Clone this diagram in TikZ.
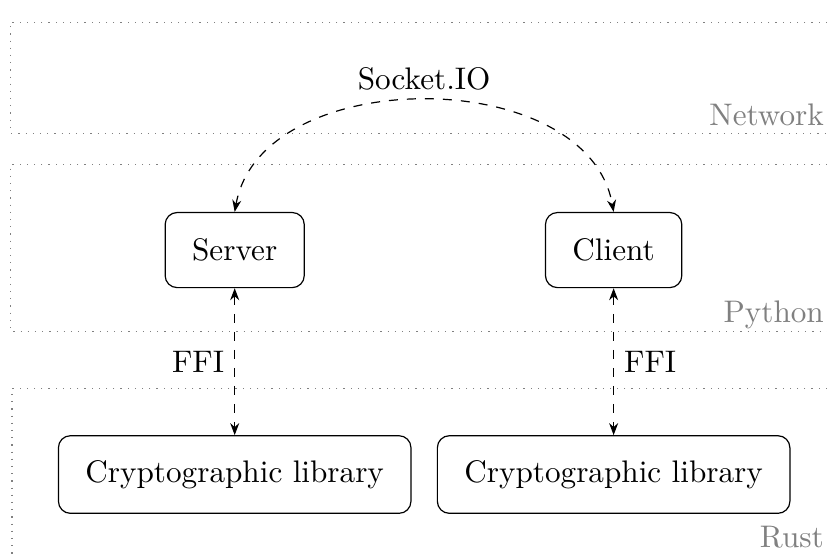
\documentclass[tikz,border=0pt]{standalone}
\usepackage{tikz}
\usetikzlibrary{arrows.meta}

\begin{document}
\begin{tikzpicture}[
    font=\fontsize{10.4pt}{12.5pt}\selectfont,
    component/.style={rectangle, draw, rounded corners, inner xsep=9pt, inner ysep=8.2pt, minimum height=0.88cm},
    layer/.style={draw=gray, dotted},
    layerlabel/.style={text=gray, anchor=base east, inner sep=0pt},
    link/.style={dashed, {Stealth[length=4pt]}-{Stealth[length=4pt]}}
  ]
      \useasboundingbox (0, 0) rectangle (9.69, 6.54);

      % layers
      \draw[layer] (9.69, 6.28) -- (0.12, 6.28) -- (0.12, 4.98) -- (9.69, 4.98);
      \draw[layer] (9.69, 4.61) -- (0.12, 4.61) -- (0.12, 2.66) -- (9.69, 2.66);
      \draw[layer] (9.69, 1.99) -- (0.14, 1.99) -- (0.14, 0);
      \node (network) [layerlabel] at (9.66, 5.07) {Network};
      \node (python) [layerlabel] at (9.66, 2.76) {Python};
      \node (rust) [layerlabel] at (9.66, 0.12) {Rust};

      \node (server) [component] at (2.75, 3.61) {Server};
      \node (client) [component] at (7.19, 3.61) {Client};
      \node (serverlib) [component] at (2.75, 0.98) {Cryptographic library};
      \node (clientlib) [component] at (7.19, 0.98) {Cryptographic library};

      \draw[link] (server.north) to [out=80, in=100, looseness=1.02] node [midway, above] {Socket.IO} (client.north);
      \draw[link] (server) -- (serverlib) node [midway, left] {FFI};
      \draw[link] (client) -- (clientlib) node [midway, right] {FFI};
    \end{tikzpicture}
\end{document}
